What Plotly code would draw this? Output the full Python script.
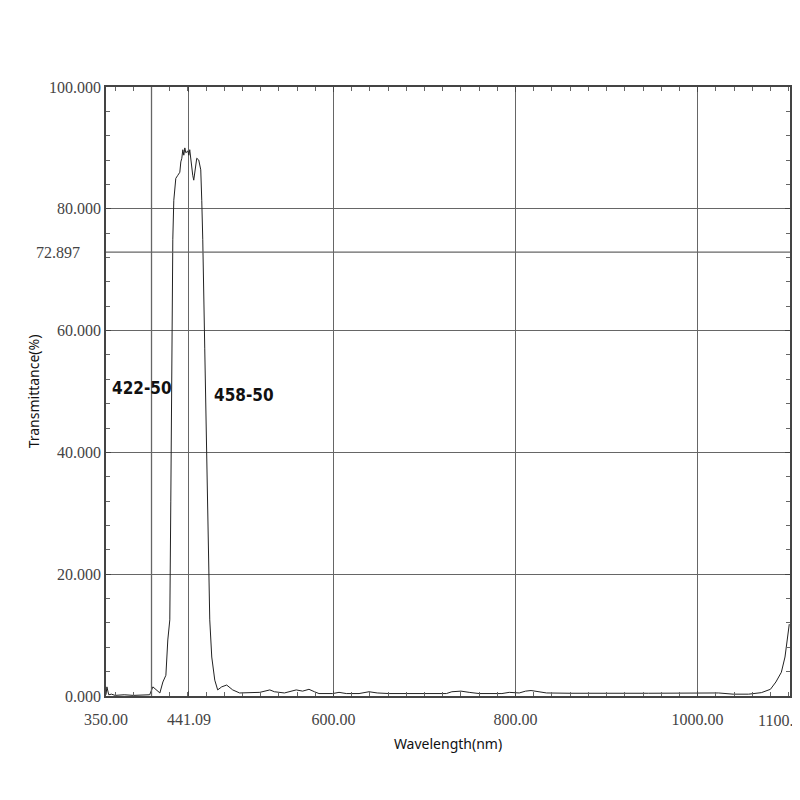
import plotly.graph_objects as go

# transmittance curve
wavelength = [350, 351, 353, 356, 360, 370, 380, 390, 398, 401.5, 405.9, 409.2,
              412.5, 415.8, 417.9, 420.1, 421.2, 422.3, 423.4, 424.5, 426.7, 428.9,
              431.1, 432.2, 433.3, 434.4, 435.5, 436.6, 437.7, 439.9, 441.0, 442.0,
              443.2, 444.2, 445.3, 446.4, 447.5, 448.6, 449.7, 451.9, 453.0, 454.1,
              455.2, 456.3, 458.5, 460.7, 462.9, 464.0, 466.2, 469.5, 472.7, 477.1,
              482.6, 489.2, 496.8, 505, 512, 519, 530, 535, 546, 559, 566, 573, 579,
              584, 599, 606, 614, 628, 639, 648, 661, 694, 724, 730, 740, 749, 760,
              785, 793, 804, 811, 817, 826, 834, 860, 891, 920, 946, 975, 1001, 1023,
              1039, 1056, 1070, 1080, 1086, 1092, 1096, 1098.5, 1100.7]
transmittance = [0.2, 1.5, 0.2, 0.3, 0.1, 0.2, 0.1, 0.2, 0.2, 1.5, 1.0, 0.5,
                 2.3, 3.4, 9.2, 12.5, 32, 57, 75, 81.4, 85, 85.5,
                 86, 87.7, 88.3, 89.7, 88.8, 90, 89.2, 89.5, 88.8, 89.7,
                 88, 87.2, 85.5, 84.7, 86, 87.7, 88.3, 88, 87.2, 86.4,
                 81.4, 75, 57, 40.4, 22.3, 12.5, 6.4, 2.6, 1.0, 1.5,
                 1.8, 1.0, 0.5, 0.5, 0.5, 0.6, 1.0, 0.7, 0.5, 1.0, 0.8, 1.1, 0.7,
                 0.4, 0.4, 0.6, 0.4, 0.4, 0.7, 0.5, 0.4, 0.4, 0.4, 0.7, 0.8, 0.6, 0.4,
                 0.4, 0.6, 0.5, 0.8, 0.9, 0.7, 0.5, 0.45, 0.4, 0.45, 0.45, 0.45, 0.45, 0.5,
                 0.3, 0.3, 0.55, 1.1, 2.3, 3.9, 6.4, 9.2, 11.8]

x_ticks = [350, 441.09, 600, 800, 1000]
x_ticktext = ['350.00', '441.09', '600.00', '800.00', '1000.00']
y_ticks = [0, 20, 40, 60, 80, 100]
y_ticktext = ['0.000', '20.000', '40.000', '60.000', '80.000', '100.000']
marker_x = 400
marker_y = 72.897

tick_font = dict(family='Liberation Serif', size=16, color='#444')
label_font = dict(family='Liberation Sans Narrow, DejaVu Sans Condensed', size=17, color='#111')
grid_col = '#666'

fig = go.Figure()
fig.add_trace(go.Scatter(x=wavelength, y=transmittance, mode='lines',
                         line=dict(color='#222', width=1), showlegend=False))

fig.add_vline(x=marker_x, line=dict(color=grid_col, width=1.3))
fig.add_hline(y=marker_y, line=dict(color=grid_col, width=1.3))

fig.add_annotation(x=0, xref='paper', xanchor='right', xshift=-24, y=marker_y,
                   text='72.897', showarrow=False, font=tick_font)
fig.add_annotation(x=1, xref='paper', xanchor='right', xshift=5, y=0, yanchor='top',
                   yshift=-14, text='1100.', showarrow=False, font=tick_font)
fig.add_annotation(x=389, y=50.6, text='<b>422-50</b>', showarrow=False, font=label_font)
fig.add_annotation(x=466, y=49.4, xanchor='left', text='<b>458-50</b>', showarrow=False,
                   font=label_font)

fig.update_xaxes(range=[350, 1101.5], tickmode='array', tickvals=x_ticks,
                 ticktext=x_ticktext, tickfont=tick_font, showgrid=True,
                 gridcolor=grid_col, gridwidth=1.3, zeroline=False,
                 showline=True, linecolor='#444', linewidth=1.5, mirror='ticks',
                 ticks='inside', ticklen=5, tickcolor='#444', ticklabelstandoff=8,
                 minor=dict(tickmode='linear', tick0=0, dtick=20, ticks='inside',
                            ticklen=4, tickcolor='#666', showgrid=False),
                 title=dict(text='Wavelength(nm)', standoff=12,
                            font=dict(family='Noto Sans', size=14, color='#111')))
fig.update_yaxes(range=[0, 100], tickmode='array', tickvals=y_ticks,
                 ticktext=y_ticktext, tickfont=tick_font, showgrid=True,
                 gridcolor=grid_col, gridwidth=1.3, zeroline=False,
                 showline=True, linecolor='#444', linewidth=1.5, mirror='ticks',
                 ticks='inside', ticklen=5, tickcolor='#444',
                 minor=dict(tickmode='linear', tick0=0, dtick=4, ticks='inside',
                            ticklen=4, tickcolor='#666', showgrid=False),
                 title=dict(text='Transmittance(%)', standoff=6,
                            font=dict(family='Noto Sans', size=14, color='#111')))

# page body adds 8px around the figure, so size and margins allow for it
fig.update_layout(width=792, height=792, plot_bgcolor='white', paper_bgcolor='white',
                  margin=dict(l=98, r=8, t=79, b=104))

fig.write_html('out.html')
